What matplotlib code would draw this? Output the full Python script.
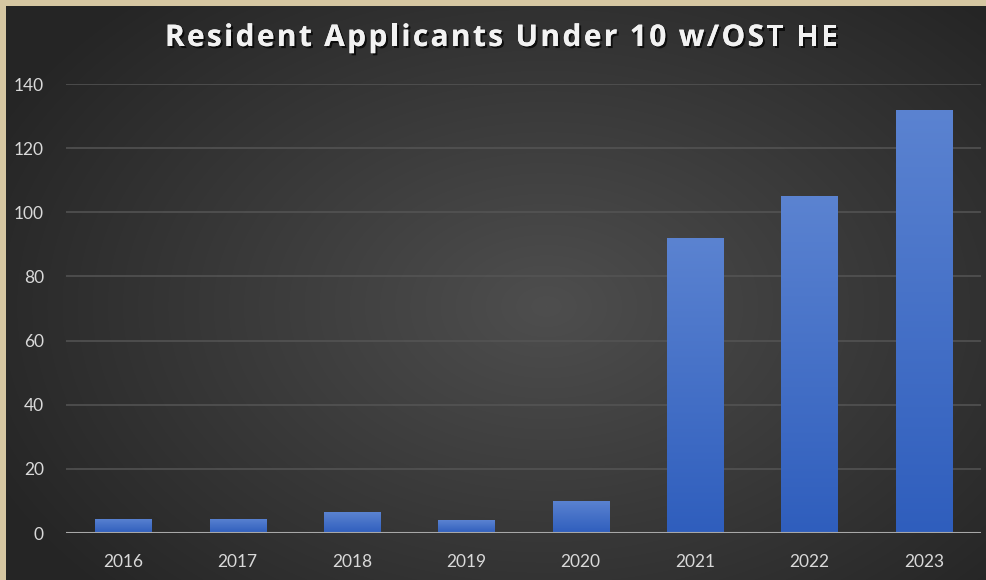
import numpy as np
import matplotlib
matplotlib.use("Agg")
import matplotlib.pyplot as plt
import matplotlib.patheffects as pe
from matplotlib.font_manager import FontProperties

years = ["2016", "2017", "2018", "2019", "2020", "2021", "2022", "2023"]
applicants = [4.5, 4.5, 6.5, 4, 10, 92, 105, 132]
yticks = [0, 20, 40, 60, 80, 100, 120, 140]
title = "Resident Applicants Under 10 w/OST HE"

W, H = 986, 580
fig = plt.figure(figsize=(W / 100, H / 100), dpi=100)
fig.patch.set_facecolor("#d6c7a2")

# dark panel with radial gradient
bg = fig.add_axes([6 / W, 0, 980 / W, 574 / H])
bg.set_axis_off()
yy, xx = np.mgrid[0:574, 0:980]
cx, cy = 540, 300
r = np.sqrt(((xx - cx) / 620) ** 2 + ((yy - cy) / 420) ** 2)
r = np.clip(r, 0, 1)
c_in = np.array([0x4e, 0x4e, 0x4e]) / 255
c_out = np.array([0x25, 0x25, 0x25]) / 255
img = c_in[None, None, :] * (1 - r[..., None]) + c_out[None, None, :] * r[..., None]
bg.imshow(img, aspect="auto", extent=[0, 1, 0, 1], interpolation="bilinear")
bg.set_xlim(0, 1)
bg.set_ylim(0, 1)

ax = fig.add_axes([66 / W, (H - 533) / H, 915 / W, 449 / H])
ax.patch.set_alpha(0)
x = np.arange(len(years))
bars = ax.bar(x, applicants, width=0.49, color="#4472c4", zorder=3)

# vertical gradient on bars
grad = np.linspace(0, 1, 256)[:, None]
top = np.array([0x5b, 0x83, 0xd1]) / 255
bot = np.array([0x2f, 0x5e, 0xbd]) / 255
gimg = top[None, None, :] * (1 - grad[..., None]) + bot[None, None, :] * grad[..., None]
for b in bars:
    bx, by = b.get_x(), b.get_y()
    bw, bh = b.get_width(), b.get_height()
    im = ax.imshow(gimg, extent=[bx, bx + bw, by, by + bh], aspect="auto",
                   zorder=4, interpolation="bilinear")
    im.set_clip_path(b)

ax.set_xlim(-0.5, len(years) - 0.5)
ax.set_ylim(0, 140)
ax.set_yticks(yticks)
ax.set_xticks(x)
ax.set_xticklabels(years)
ax.grid(axis="y", color="#555555", linewidth=1.1, zorder=0)
ax.axhline(0, color="#a8a8a8", linewidth=1.5, zorder=5)
for s in ax.spines.values():
    s.set_visible(False)
ax.tick_params(length=0, colors="#d9d9d9", labelsize=12.5)
ax.tick_params(axis="y", pad=16)
ax.tick_params(axis="x", pad=15)
for lab in ax.get_xticklabels() + ax.get_yticklabels():
    lab.set_fontfamily("Lato")

# title with letter spacing
fp = FontProperties(family="Open Sans", weight="bold", size=21.5)
renderer = fig.canvas.get_renderer()
widths = []
for ch in title:
    if ch == " ":
        w, _, _ = renderer.get_text_width_height_descent("a a", fp, ismath=False)
        w2, _, _ = renderer.get_text_width_height_descent("aa", fp, ismath=False)
        widths.append(w - w2)
    else:
        w, _, _ = renderer.get_text_width_height_descent(ch, fp, ismath=False)
        widths.append(w)
x0, x1 = 165, 838
track = (x1 - x0 - sum(widths)) / (len(title) - 1)
shadow = [pe.withSimplePatchShadow(offset=(1.5, -1.5), shadow_rgbFace="black", alpha=0.7),
          pe.Normal()]
cur = x0
for ch, w in zip(title, widths):
    if ch != " ":
        fig.text(cur / W, 1 - 38 / H, ch, ha="left", va="center", color="#f2f2f2",
                 fontproperties=fp, path_effects=shadow)
    cur += w + track

fig.savefig("out.png", dpi=100, facecolor=fig.get_facecolor())
